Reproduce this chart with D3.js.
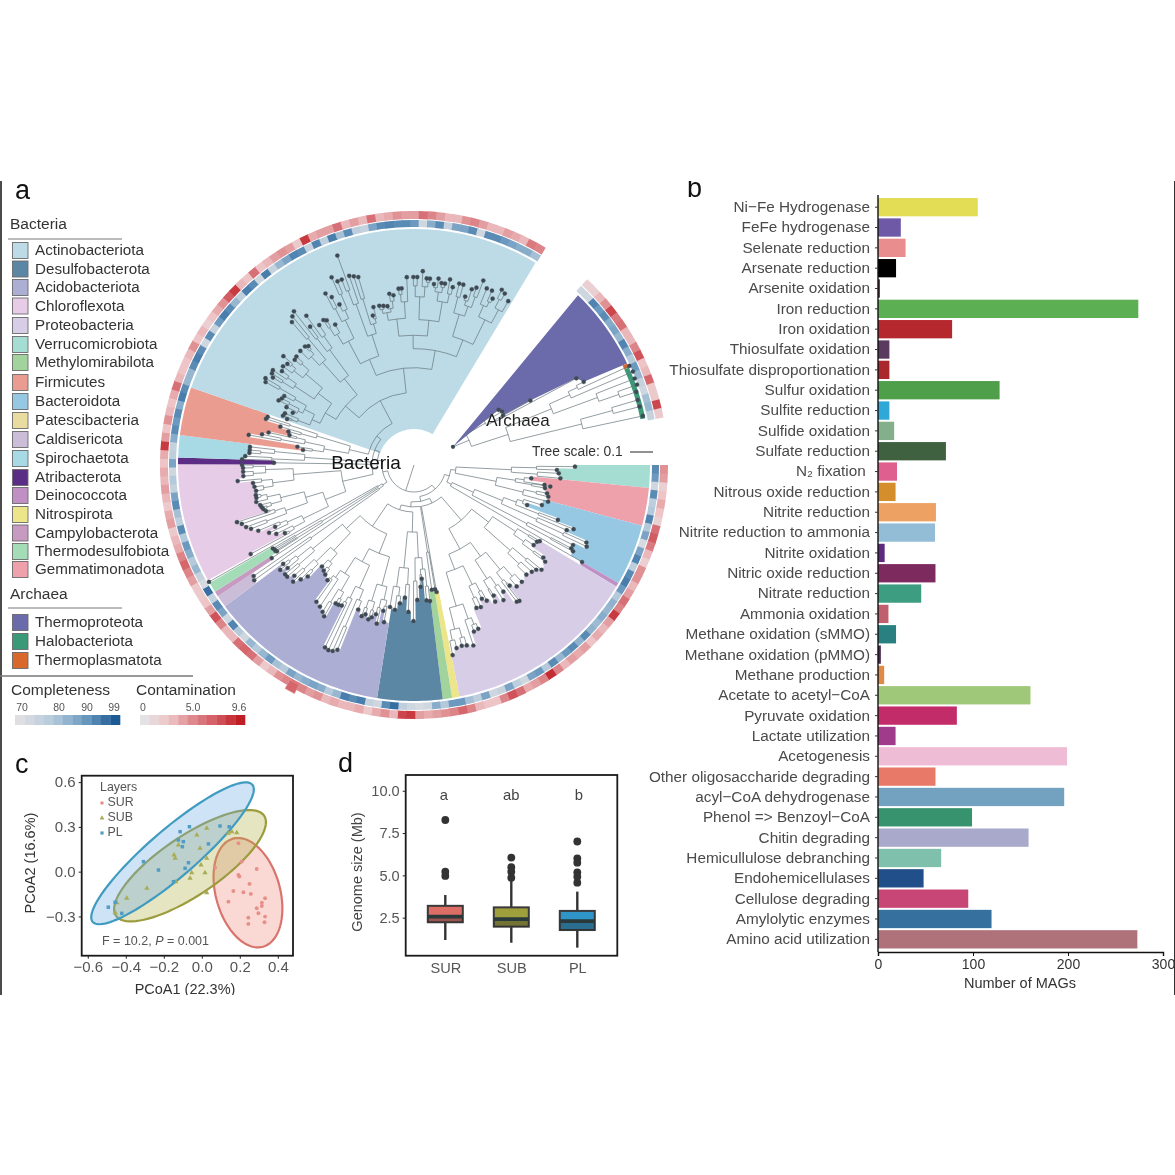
<!DOCTYPE html>
<html><head><meta charset="utf-8">
<script src="https://cdn.jsdelivr.net/npm/d3@7"></script>
<style>
html,body{margin:0;background:#fff}
svg{display:block;filter:blur(0.4px)}
text{font-family:"Liberation Sans",Arial,sans-serif}
</style></head><body>
<svg id="chart" width="1175" height="1175" viewBox="0 0 1175 1175"></svg>
<script>
// ---------- Panel a: phyla (legend) ----------
const bacteriaNames=["Actinobacteriota","Desulfobacterota","Acidobacteriota","Chloroflexota","Proteobacteria","Verrucomicrobiota","Methylomirabilota","Firmicutes","Bacteroidota","Patescibacteria","Caldisericota","Spirochaetota","Atribacterota","Deinococcota","Nitrospirota","Campylobacterota","Thermodesulfobiota","Gemmatimonadota"];
const bacteriaColors=["#bcdbe7","#5b87a5","#adaed4","#e6cce6","#d8cde7","#a5ddd2","#a3d39c","#eb9c90","#96c8e4","#e8dca0","#cbbdd8","#a8dae6","#5c2d84","#c08fc4","#ede58a","#c79ac2","#a5dcb8","#eea1ab"];
const archaeaNames=["Thermoproteota","Halobacteriota","Thermoplasmatota"];
const archaeaColors=["#6b6aab","#3a9a78","#d9692b"];
// clade order around the circle, clockwise, with their angular spans (degrees from 12 o'clock)
const cladeOrder=["Verrucomicrobiota","Gemmatimonadota","Bacteroidota","Deinococcota","Proteobacteria","Nitrospirota","Methylomirabilota","Desulfobacterota","Acidobacteriota","Caldisericota","Campylobacterota","Thermodesulfobiota","Patescibacteria","Chloroflexota","Atribacterota","Spirochaetota","Firmicutes","Actinobacteriota"];
const cladeStart=[90,95.6,104.9,120,121,168.9,170.7,173,189,233.2,236.2,237.5,240,240.8,270.2,271.8,277.3,289.2];
const cladeEnd=[95.6,104.9,120,121,168.9,170.7,173,189,233.2,236.2,237.5,240,240.8,270.2,271.8,277.3,289.2,391];
const solidClades=["Actinobacteriota"];
// tree tips: [angle in degrees, distance from the root]
const tipsVerruco=[[90.6,161],[92,143],[93.3,145],[95.2,147]];
const tipsGemma=[[96.5,118],[98.7,132],[99,138],[100,133],[102,136],[103.3,138],[105.3,139]];
const tipsBactero=[[107.4,134],[109.5,120],[110.9,154],[111.9,172],[113.1,166],[114.2,189],[115.3,191],[116.7,178],[117.9,178],[118.5,181]];
const tipsDeino=[[120,194]];
const tipsProteo=[[121.2,147],[122,145],[123.8,144],[125.6,159],[126.4,163],[129.4,165],[130.6,161],[132.2,159],[134.3,157],[137.3,159],[139.8,159],[141.6,154],[142.2,172],[143.1,171],[144.8,155],[146.5,162],[148.6,153],[149.3,159],[151.8,154],[153.1,150],[154.8,157],[156.4,156],[158.6,176],[160.2,177],[161.8,190],[163.7,188],[165.2,187],[166.9,188],[168.5,194]];
const tipsNitro=[[169.9,129]];
const tipsMethyl=[[170.4,126],[171.9,126]];
const tipsDesulfo=[[173.3,137],[174.7,136],[176.1,114],[176.9,122],[178.6,135],[180.2,156],[182.2,147],[183.9,133],[185.8,139],[187.5,146],[189.6,144]];
const tipsAcido=[[190.8,160],[191.9,149],[193.2,163],[194.3,154],[195.5,158],[196.5,161],[198,157],[199.1,160],[201.1,155],[202.5,200],[203.6,203],[204.8,204],[206,203],[207.2,158],[208.4,159],[209.5,159],[210.7,176],[211.9,173],[213.6,170],[215.5,168],[216.9,144],[219,141],[220.5,139],[222.2,137],[223.6,154],[224.7,161],[226,168],[227.2,163],[228.6,169],[229.7,169],[230.8,163],[232.9,164],[231.9,170]];
const tipsCaldi=[[234.2,197],[235.3,195]];
const tipsCampy=[[236.8,170]];
const tipsThermoD=[[237.8,162],[238.2,163],[238.8,163],[239.4,164]];
const tipsPatesci=[[240.3,236]];
const tipsChloro=[[241.4,186],[242.2,146],[243.4,154],[244.9,160],[246,152],[247.1,169],[248.6,175],[249.7,179],[251.1,182],[252.1,186],[252.7,155],[253.7,157],[254.5,158],[255.4,159],[256.8,162],[258.2,161],[259.2,161],[260.7,160],[262.2,161],[263.6,162],[264.8,177],[266.3,171],[267.7,171],[269,171],[270,172]];
const tipsAtri=[[270.9,140]];
const tipsSpiro=[[271.9,172],[273,169],[274.2,165],[275.2,165],[276.3,165]];
const tipsFirmi=[[277.7,112],[278.9,118],[280.3,168],[281.4,155],[282.6,149],[283.5,128],[284.9,130],[286,139],[287.3,155],[288.2,154]];
const tipsActino=[[289.9,135],[290.6,140],[291.8,139],[293.3,132],[294.4,140],[295.5,150],[296.7,148],[298,147],[299.2,170],[300.3,172],[301.8,166],[302.8,169],[303.9,170],[305.4,162],[307,164],[308.6,162],[309.8,170],[311.4,159],[312.7,160],[315.1,161],[317.4,161],[318.4,159],[319.5,188],[320.7,192],[322,195],[324.2,184],[323.1,173],[325.9,169],[328,171],[328.9,169],[330.7,161],[332.7,193],[333.9,187],[335.1,177],[336.3,205],[337.4,199],[338.7,199],[339.9,223],[341.1,200],[342.3,198],[343.5,196],[344.6,155],[345.6,163],[347.7,163],[349.1,162],[350.5,161],[351.8,173],[353.1,171],[355,177],[356,177],[357.8,188],[359.8,188],[1,188],[2.6,194],[3.9,187],[4.9,187],[6.3,182],[7.5,188],[8.6,184],[9.7,184],[11,189],[12.3,182],[14,187],[15.3,187],[16.9,176],[18.2,185],[19.4,188],[20.6,197],[22.4,191],[24.1,191],[25.3,184],[26.6,196],[27.9,194],[29.9,189]];
const cladeTips=[tipsVerruco,tipsGemma,tipsBactero,tipsDeino,tipsProteo,tipsNitro,tipsMethyl,tipsDesulfo,tipsAcido,tipsCaldi,tipsCampy,tipsThermoD,tipsPatesci,tipsChloro,tipsAtri,tipsSpiro,tipsFirmi,tipsActino];
// archaea
const archaeaRoot=[65,43];
const archaeaSectorSpan=[44,64.5];
const thermoproteotaTips=[[56.9,101],[58.7,103],[60.8,102],[61,133],[61.9,184],[63.9,189]];
const thermoplasmaTips=[[65.3,237]];
const haloTips=[[66.9,238],[68.6,237],[70.2,237],[71.8,234],[73.8,233],[75.5,233],[77.9,234]];
const thermoplasmaSpan=[64.5,65.6];
const haloSpan=[65.6,78.6];
// rings: completeness and contamination, one cell every 2 degrees, clockwise from 3 o'clock
const ringCompleteness=[92,90,74,92,78,80,93,80,88,72,88,93,78,92,94,90,80,85,84,86,83,85,92,85,92,90,84,92,80,90,88,74,78,88,76,74,88,78,82,90,90,80,86,74,72,74,78,96,92,74,76,94,92,94,84,80,86,88,86,84,88,80,82,90,84,80,84,74,80,93,74,88,92,76,96,72,76,84,80,86,90,80,92,78,82,92,88,76,80,74,88,78,76,86,92,90,92,86,94,92,84,84,92,94,92,74,92,76,90,94,92,84,78,94,92,74,94,76,84,88,93,92,76,93,78,94,82,92,78,76,88,92,93,92,92,90,74,86,92,76,88,88,92,74,92,92,90,88,86,86,82];
const ringContamination=[4.5,4,1.5,2.5,3.5,2.5,1.5,6,7,5.5,3,1.5,4.5,4.5,3,4,6,5,8.5,4,3,3.5,2.5,4,3.5,4,3,5,9,5,4,3.5,6,7.5,5,2.5,2.5,3,5,6.5,5,4.5,4,3.5,4,8.5,8,3,4.5,3.5,2,3.5,3,3,3.5,3,4.5,4,5,6,5,4.5,3,2,4,6,6.5,6,3,3,5,7.5,4,2.5,2,2,4,5,6.5,5,3.5,3,2,4,3.5,2,3,4,3,3.5,2.5,3.5,8.5,4,2.5,4.5,3,2.5,3.5,6,3,2.5,2.5,3,4.5,2.5,3,1.5,2.5,3.5,4.5,7,8.5,3,2.5,6,2.5,3,4,4.5,4,2,8.5,3.5,4,4,6,3,4,3,6,3,3.5,4.5,4,4,6,5,4,3,3,4.5,5,4,3,3,4,3.5,3,5.5,5];
const ringSpan=[90,391];
const archaeaCompleteness=[74,74,93,90,92,86,88,84,93,86,80,90,84,76,74,82,84,76];
const archaeaContamination=[1.5,1.5,3,4.5,8,5.5,6,3,3,5,7.5,2.5,3,6.5,2,2,8,2];
const archaeaRingSpan=[43,79];
const outlierCellAngle=[207.6,210];
const outlierCellValue=[6.5];
const completenessTicks=[70,80,90,99];
const contaminationTicks=[0,5.0,9.6];

// ---------- Panel b ----------
const pathways=["Ni\u2212Fe Hydrogenase","FeFe hydrogenase","Selenate reduction","Arsenate reduction","Arsenite oxidation","Iron reduction","Iron oxidation","Thiosulfate oxidation","Thiosulfate disproportionation","Sulfur oxidation","Sulfite reduction","Sulfide oxidation","Sulfate reduction","N\u2082 fixation\u00a0","Nitrous oxide reduction","Nitrite reduction","Nitrite reduction to ammonia","Nitrite oxidation","Nitric oxide reduction","Nitrate reduction","Ammonia oxidation","Methane oxidation (sMMO)","Methane oxidation (pMMO)","Methane production","Acetate to acetyl\u2212CoA","Pyruvate oxidation","Lactate utilization","Acetogenesis","Other oligosaccharide degrading","acyl\u2212CoA dehydrogenase","Phenol => Benzoyl\u2212CoA","Chitin degrading","Hemicullulose debranching","Endohemicellulases","Cellulose degrading","Amylolytic enzymes","Amino acid utilization"];
const pathwayCounts=[105,24,29,19,2,274,78,12,12,128,12,17,71.5,20,18.5,61,60,7,60.5,45.5,11,19,3,6.5,160.5,83,18.5,199,60.5,196,99,158.5,66.5,48,95,119.5,273];
const pathwayColors=["#e3dc55","#6e59a7","#e98d8e","#000000","#5a2a3a","#5cb053","#b5282e","#5a3a5e","#a8282e","#4f9e4a","#2fa8d8","#83b08a","#3f6140","#df5f8f","#d58e2c","#eda264","#93bcd6","#5f2a7d","#7d2b5f","#3d9d80","#c0606e","#2a8080","#4a2a50","#e08a48","#9fc878","#c22c68","#a03a8a","#efbcd5","#e87868","#72a2c0","#37936e","#a9a9cc","#7fc0ac","#214f8a","#c84676","#35709f","#b0727a"];
const countTicks=[0,100,200,300];

// ---------- Panel c ----------
const layers=["SUR","SUB","PL"];
const layerStroke=["#d8746c","#9c9c3e","#3f9bc0"];
const layerFill=["rgba(240,140,128,.33)","rgba(175,175,70,.33)","rgba(105,170,228,.33)"];
const layerPointColor=["#e88f88","#a9ab56","#4f9cc4"];
const ellipseCenter=[[.243,-.141],[-.062,.04],[-.154,.123]];
const ellipseMajor=[[.079,-.362],[.39,.335],[.42,.46]];
const ellipseMinor=[[.163,.058],[.087,-.164],[.082,-.12]];
const pointsSUR=[[.193,.19],[.21,.067],[.289,.018],[.193,-.022],[.198,-.033],[.251,-.082],[.166,-.129],[.219,-.138],[.258,-.149],[.14,-.201],[.333,-.178],[.316,-.208],[.316,-.23],[.289,-.245],[.298,-.279],[.245,-.308],[.333,-.301],[.245,-.35],[.33,-.339],[.07,.027]];
const pointsSUB=[[.184,.261],[.158,.268],[.14,.257],[-.009,.157],[.026,.09],[-.004,.045],[.017,-.007],[-.053,-.007],[-.062,-.044],[-.146,.112],[-.289,-.111],[.026,-.141],[-.395,-.178],[-.447,-.208],[-.456,-.275],[-.137,-.067],[-.026,.246],[.026,.291],[-.123,.179],[-.14,.09]];
const pointsPL=[[-.114,.268],[-.065,.301],[.096,.306],[.144,.301],[-.123,.212],[-.102,.167],[-.097,.201],[.035,.186],[-.07,.06],[-.088,.023],[-.307,.067],[-.228,.011],[-.492,-.238],[-.456,-.205],[-.421,-.279],[-.149,-.067]];
const pcoaXTicks=[-.6,-.4,-.2,0,.2,.4];
const pcoaYTicks=[-.3,0,.3,.6];

// ---------- Panel d ----------
const boxQ1=[2.23,1.97,1.77];
const boxMedian=[2.56,2.42,2.3];
const boxQ3=[3.2,3.11,2.9];
const boxLow=[1.18,1.02,.73];
const boxHigh=[3.84,4.83,4.04];
const boxOutliers=[[8.27,5.22,4.97],[6.05,5.48,5.22,4.86],[7.0,6.0,5.75,5.18,4.92,4.57]];
const boxColors=["#dd6e66","#9f9f3c","#2f95c8"];
const boxLetters=["a","ab","b"];
const genomeTicks=[2.5,5.0,7.5,10.0];

// ---------- drawing ----------
const svg=d3.select("#chart");
svg.append("defs").append("clipPath").attr("id","page").append("rect").attr("x",0).attr("y",181).attr("width",1175).attr("height",814);
const root=svg.append("g").attr("clip-path","url(#page)");
root.append("rect").attr("x",0).attr("y",181).attr("width",1175).attr("height",814).attr("fill","#fff");
root.append("line").attr("x1",1).attr("x2",1).attr("y1",181).attr("y2",995).attr("stroke","#111").attr("stroke-width",1.5);
root.append("line").attr("x1",1174.5).attr("x2",1174.5).attr("y1",181).attr("y2",995).attr("stroke","#333").attr("stroke-width",1);

const rad=d=>d*Math.PI/180;
const compColor=d3.scaleLinear().domain([70,80,90,99]).range(["#dfdfe2","#b4cadb","#6b99bf","#1d5a94"]);
const contColor=d3.scaleLinear().domain([0,2.5,5,7.5,9.6]).range(["#e4e2e4","#eec4c6","#dc8488","#d0525a","#bf1e24"]);

// tree group
const cx=414,cy=465,R=236;
const gA=root.append("g").attr("transform",`translate(${cx},${cy})`);
const unwrap=t=>t.map(d=>[d[0]<60?d[0]+360:d[0],d[1]]);
const radial=d3.lineRadial().angle(d=>rad(d[0])).radius(d=>d[1]);

// sector fills
cladeOrder.forEach((name,i)=>{
  const col=bacteriaColors[bacteriaNames.indexOf(name)];
  const s=cladeStart[i],e=cladeEnd[i];
  if(solidClades.includes(name)){
    gA.append("path").attr("fill",col).attr("d",d3.arc()({innerRadius:36,outerRadius:R,startAngle:rad(s),endAngle:rad(e)}));
    return;
  }
  const tips=unwrap(cladeTips[i]).slice().sort((a,b)=>a[0]-b[0]);
  const mids=d3.pairs(tips).map(([a,b])=>(a[0]+b[0])/2);
  const edges=[s,...mids,e];
  const inner=[];
  tips.forEach((t,k)=>{inner.push([edges[k],t[1]]);inner.push([edges[k+1],t[1]]);});
  const outer=d3.range(e,s,-1).concat([s]).map(a=>[a,R]);
  gA.append("path").attr("fill",col).attr("d",radial([...inner,...outer])+"Z");
});
// archaea sector
{
  const arcPts=d3.range(archaeaSectorSpan[0],archaeaSectorSpan[1],1).concat([archaeaSectorSpan[1]]).map(a=>[a,R]);
  const edge=thermoproteotaTips.slice().reverse();
  gA.append("path").attr("fill",archaeaColors[0]).attr("d",radial([archaeaRoot,...arcPts,...edge])+"Z");
  gA.append("path").attr("fill",archaeaColors[2]).attr("d",d3.arc()({innerRadius:231,outerRadius:R,startAngle:rad(thermoplasmaSpan[0]),endAngle:rad(thermoplasmaSpan[1])}));
  gA.append("path").attr("fill",archaeaColors[1]).attr("d",d3.arc()({innerRadius:231,outerRadius:R,startAngle:rad(haloSpan[0]),endAngle:rad(haloSpan[1])}));
}
// rings
const ringIdx=d3.scaleLinear().domain([0,ringCompleteness.length]).range(ringSpan);
function drawRing(vals,scale,color,r0,r1){
  gA.append("g").selectAll("path").data(vals).join("path")
    .attr("fill",d=>color(d))
    .attr("d",(d,i)=>d3.arc()({innerRadius:r0,outerRadius:r1,startAngle:rad(scale(i)),endAngle:rad(scale(i+1))+.004}));
}
drawRing(ringCompleteness,ringIdx,compColor,238,245);
drawRing(ringContamination,ringIdx,contColor,246,254);
const archIdx=d3.scaleLinear().domain([0,archaeaCompleteness.length]).range(archaeaRingSpan);
drawRing(archaeaCompleteness,archIdx,compColor,238,245);
drawRing(archaeaContamination,archIdx,contColor,246,254);
gA.append("path").attr("fill",contColor(outlierCellValue[0])).attr("stroke","#e8a0a0").attr("stroke-width",.5)
  .attr("d",d3.arc()({innerRadius:248,outerRadius:258,startAngle:rad(outlierCellAngle[0]),endAngle:rad(outlierCellAngle[1])}));

// tree (binary splitting of neighbouring tips, laid out through d3.hierarchy)
function buildNode(tips,parentR){
  if(tips.length===1) return {a:tips[0][0],r:tips[0][1],tip:true};
  const n=tips.length,minR=d3.min(tips,d=>d[1]);
  const f=n>8?.3:.55;
  const r=parentR+(minR-parentR)*f;
  const lo=Math.max(1,Math.ceil(n*.3)),hi=Math.min(n-1,Math.floor(n*.7));
  let best=lo,gap=-1;
  for(let k=lo;k<=hi;k++){const g=tips[k][0]-tips[k-1][0];if(g>gap){gap=g;best=k;}}
  const c1=buildNode(tips.slice(0,best),r),c2=buildNode(tips.slice(best),r);
  return {a:(c1.a+c2.a)/2,r,children:[c1,c2]};
}
function joinClades(list,parentR){
  if(list.length===1) return buildNode(list[0],parentR);
  const m=Math.floor(list.length/2),r=parentR+5;
  const c1=joinClades(list.slice(0,m),r),c2=joinClades(list.slice(m),r);
  return {a:(c1.a+c2.a)/2,r,children:[c1,c2]};
}
const sortedClades=cladeTips.map(t=>unwrap(t).slice().sort((a,b)=>a[0]-b[0]));
const bacteriaTree=d3.hierarchy(joinClades(sortedClades,22));
const archaeaTips=[...thermoproteotaTips,...thermoplasmaTips,...haloTips];
const archaeaTree=d3.hierarchy(buildNode(archaeaTips,archaeaRoot[1]));
function drawTree(h,rootAngle,rootR){
  const g=gA.append("g");
  const P=(a,r)=>d3.pointRadial(rad(a),r);
  const p=d3.path();
  h.each(n=>{
    if(n.children){
      const [c1,c2]=n.children;
      const q0=P(c1.data.a,n.data.r);
      p.moveTo(q0[0],q0[1]);
      p.arc(0,0,n.data.r,rad(c1.data.a)-Math.PI/2,rad(c2.data.a)-Math.PI/2,false);
      n.children.forEach(c=>{
        const a=P(c.data.a,n.data.r),b=P(c.data.a,c.data.r);
        p.moveTo(a[0],a[1]);p.lineTo(b[0],b[1]);
      });
    }
  });
  const s=P(rootAngle,rootR),t=P(h.data.a,h.data.r);
  p.moveTo(s[0],s[1]);p.lineTo(t[0],t[1]);
  g.append("path").attr("d",p.toString()).attr("fill","none").attr("stroke","#66747a").attr("stroke-width",.7);
  g.append("g").selectAll("circle").data(h.leaves()).join("circle")
    .attr("transform",d=>{const q=P(d.data.a,d.data.r);return `translate(${q[0]},${q[1]})`;})
    .attr("r",2.1).attr("fill","#3c4a55").attr("stroke","#555").attr("stroke-width",.3);
}
drawTree(bacteriaTree,0,0);
drawTree(archaeaTree,archaeaRoot[0],archaeaRoot[1]);
{const q=d3.pointRadial(rad(archaeaRoot[0]),archaeaRoot[1]);
 gA.append("circle").attr("cx",q[0]).attr("cy",q[1]).attr("r",2.1).attr("fill","#3c4a55");}

const T=(x,y,s,size,o={})=>root.append("text").attr("x",x).attr("y",y).attr("font-size",size).attr("fill",o.fill||"#333").attr("text-anchor",o.anchor||"start").attr("dominant-baseline","middle").text(s);
// inner hole labels
T(366,464,"Bacteria",19,{fill:"#111",anchor:"middle"});
T(518,422,"Archaea",17,{fill:"#222",anchor:"middle"});
T(532,452,"Tree scale: 0.1",13.8,{fill:"#333"});
root.append("line").attr("x1",630).attr("x2",653).attr("y1",452).attr("y2",452).attr("stroke","#555").attr("stroke-width",1.3);

// panel letters
T(15,192,"a",27,{fill:"#111"});
T(687,190,"b",27,{fill:"#111"});
T(15,766,"c",27,{fill:"#111"});
T(338,765,"d",27,{fill:"#111"});

// legend
const rowY=[251,269.5,288,306.5,326,345,363,383,402,421,440,459,478,496,515,533.5,552,570];
const archRowY=[623,642,661];
T(10,225,"Bacteria",15.5);
root.append("line").attr("x1",8).attr("x2",122).attr("y1",239).attr("y2",239).attr("stroke","#777");
T(10,595,"Archaea",15.5);
root.append("line").attr("x1",8).attr("x2",122).attr("y1",608).attr("y2",608).attr("stroke","#777");
root.append("line").attr("x1",0).attr("x2",193).attr("y1",676).attr("y2",676).attr("stroke","#777").attr("stroke-width",1.3);
function legendRows(names,colors,ys){
  names.forEach((n,i)=>{
    root.append("rect").attr("x",12.5).attr("y",ys[i]-8.5).attr("width",15.5).attr("height",16).attr("fill",colors[i]).attr("stroke","#6b6b6b").attr("stroke-width",.9);
    T(35,ys[i],n,15.2);
  });
}
legendRows(bacteriaNames,bacteriaColors,rowY);
legendRows(archaeaNames,archaeaColors,archRowY);
T(11,691,"Completeness",15.5);
T(136,691,"Contamination",15.5);
// colour strips
const stripBlocks=d3.range(11);
const stripPos=d3.scaleBand().domain(stripBlocks).range([0,105]);
const compStrip=d3.scaleLinear().domain([0,10]).range([70,99]);
const contStrip=d3.scaleLinear().domain([0,10]).range([0,9.6]);
root.append("g").selectAll("rect").data(stripBlocks).join("rect")
  .attr("x",d=>15+stripPos(d)).attr("y",715).attr("width",stripPos.bandwidth()+.3).attr("height",10).attr("fill",d=>compColor(compStrip(d)));
root.append("g").selectAll("rect").data(stripBlocks).join("rect")
  .attr("x",d=>140+stripPos(d)).attr("y",715).attr("width",stripPos.bandwidth()+.3).attr("height",10).attr("fill",d=>contColor(contStrip(d)));
const compTickX=d3.scaleOrdinal().domain(completenessTicks).range([22,59,87,114]);
completenessTicks.forEach(t=>T(compTickX(t),708,String(t),10.5,{anchor:"middle",fill:"#555"}));
const contTickX=d3.scaleOrdinal().domain(contaminationTicks).range([143,193,239]);
contaminationTicks.forEach(t=>T(contTickX(t),708,t===0?"0":t.toFixed(1),10.5,{anchor:"middle",fill:"#555"}));

// ---------- panel b ----------
const bx=d3.scaleLinear().domain([0,300]).range([878,1163]);
const by=d3.scaleBand().domain(pathways).range([197,949.5]).paddingInner(.1).paddingOuter(.05);
const gB=root.append("g");
gB.selectAll("rect").data(pathways).join("rect")
  .attr("x",bx(0)).attr("y",d=>by(d)).attr("height",by.bandwidth())
  .attr("width",(d,i)=>bx(pathwayCounts[i])-bx(0)).attr("fill",(d,i)=>pathwayColors[i]);
const yAxisB=gB.append("g").attr("transform","translate(878,0)").call(d3.axisLeft(by).tickSize(3).tickPadding(5));
yAxisB.selectAll("text").attr("font-size",15.3).attr("fill","#4a4a4a").attr("font-family",'"Liberation Sans",Arial,sans-serif');
yAxisB.select(".domain").attr("stroke","#111").attr("stroke-width",1.4).attr("d","M0,195V952");
yAxisB.selectAll(".tick line").attr("stroke","#333");
const xAxisB=gB.append("g").attr("transform","translate(0,952)").call(d3.axisBottom(bx).tickValues(countTicks).tickSize(4).tickPadding(3));
xAxisB.selectAll("text").attr("font-size",14).attr("fill","#333").attr("font-family",'"Liberation Sans",Arial,sans-serif');
xAxisB.select(".domain").attr("stroke","#111").attr("stroke-width",1.4);
xAxisB.selectAll(".tick line").attr("stroke","#111");
T(1020,984,"Number of MAGs",14.5,{anchor:"middle"});

// ---------- panel c ----------
const px=d3.scaleLinear().domain([-.632,.48]).range([81.7,293]);
const py=d3.scaleLinear().domain([-.563,.643]).range([955.7,775.7]);
const gC=root.append("g");
const ellLine=d3.line().x(d=>px(d[0])).y(d=>py(d[1])).curve(d3.curveLinearClosed);
layers.forEach((l,i)=>{
  const c=ellipseCenter[i],u=ellipseMajor[i],v=ellipseMinor[i];
  const pts=d3.range(0,360,4).map(a=>{const t=rad(a);return [c[0]+u[0]*Math.cos(t)+v[0]*Math.sin(t),c[1]+u[1]*Math.cos(t)+v[1]*Math.sin(t)];});
  gC.append("path").attr("d",ellLine(pts)).attr("fill",layerFill[i]).attr("stroke",layerStroke[i]).attr("stroke-width",2.2);
});
const shapes=[d3.symbolCircle,d3.symbolTriangle,d3.symbolSquare];
[pointsSUR,pointsSUB,pointsPL].forEach((set,i)=>{
  gC.append("g").selectAll("path").data(set).join("path")
    .attr("transform",d=>`translate(${px(d[0])},${py(d[1])})`)
    .attr("d",d3.symbol(shapes[i],12)).attr("fill",layerPointColor[i]);
});
gC.append("rect").attr("x",px.range()[0]).attr("y",py.range()[1]).attr("width",px.range()[1]-px.range()[0]).attr("height",py.range()[0]-py.range()[1]).attr("fill","none").attr("stroke","#1a1a1a").attr("stroke-width",1.8);
const xAxC=gC.append("g").attr("transform","translate(0,955.7)").call(d3.axisBottom(px).tickValues(pcoaXTicks).tickSize(3).tickPadding(3).tickFormat(d=>d3.format(".1f")(d).replace("-","\u2212")));
const yAxC=gC.append("g").attr("transform","translate(81.7,0)").call(d3.axisLeft(py).tickValues(pcoaYTicks).tickSize(3).tickPadding(3).tickFormat(d=>d3.format(".1f")(d).replace("-","\u2212")));
[xAxC,yAxC].forEach(a=>{a.select(".domain").remove();a.selectAll("text").attr("font-size",15).attr("fill","#555").attr("font-family",'"Liberation Sans",Arial,sans-serif');a.selectAll(".tick line").attr("stroke","#222");});
T(185,990,"PCoA1 (22.3%)",14.5,{anchor:"middle"});
root.append("text").attr("transform","translate(31,863) rotate(-90)").attr("text-anchor","middle").attr("dominant-baseline","middle").attr("font-size",14.5).attr("fill","#333").text("PCoA2 (16.6%)");
T(100,788,"Layers",12.4,{fill:"#555"});
const legY=[803,818,833];
layers.forEach((l,i)=>{
  gC.append("path").attr("transform",`translate(102,${legY[i]})`).attr("d",d3.symbol(shapes[i],10)).attr("fill",layerPointColor[i]);
  T(107.5,legY[i],l,12.4,{fill:"#555"});
});
{const t=root.append("text").attr("x",102).attr("y",942).attr("font-size",12.5).attr("fill","#555").attr("dominant-baseline","middle");
 t.append("tspan").text("F = 10.2, ");t.append("tspan").attr("font-style","italic").text("P");t.append("tspan").text(" = 0.001");}

// ---------- panel d ----------
const dx=d3.scalePoint().domain(layers).range([445.3,577.3]);
const dy=d3.scaleLinear().domain([.254,10.93]).range([955.7,775]);
const gD=root.append("g");
const bw=35;
layers.forEach((l,i)=>{
  const x=dx(l);
  gD.append("line").attr("x1",x).attr("x2",x).attr("y1",dy(boxLow[i])).attr("y2",dy(boxHigh[i])).attr("stroke","#333").attr("stroke-width",2.4);
  gD.append("rect").attr("x",x-bw/2).attr("width",bw).attr("y",dy(boxQ3[i])).attr("height",dy(boxQ1[i])-dy(boxQ3[i])).attr("fill",boxColors[i]).attr("stroke","#3a3a3a").attr("stroke-width",2);
  gD.append("rect").attr("x",x-bw/2).attr("width",bw).attr("y",dy(boxMedian[i])).attr("height",dy(boxQ1[i])-dy(boxMedian[i])).attr("fill","#222").attr("opacity",.35);
  gD.append("line").attr("x1",x-bw/2).attr("x2",x+bw/2).attr("y1",dy(boxMedian[i])).attr("y2",dy(boxMedian[i])).attr("stroke","#2a3a3a").attr("stroke-width",3.8);
  gD.append("g").selectAll("circle").data(boxOutliers[i]).join("circle").attr("cx",x).attr("cy",d=>dy(d)).attr("r",3.9).attr("fill","#333");
  T(x-1.5+i*1.5,796,boxLetters[i],14.8,{anchor:"middle",fill:"#444"});
});
gD.append("rect").attr("x",405.7).attr("y",775).attr("width",211.6).attr("height",180.7).attr("fill","none").attr("stroke","#1a1a1a").attr("stroke-width",1.8);
const xAxD=gD.append("g").attr("transform","translate(0,955.7)").call(d3.axisBottom(dx).tickSize(0).tickPadding(7));
const yAxD=gD.append("g").attr("transform","translate(405.7,0)").call(d3.axisLeft(dy).tickValues(genomeTicks).tickSize(3).tickPadding(3).tickFormat(d3.format(".1f")));
[xAxD,yAxD].forEach(a=>{a.select(".domain").remove();a.selectAll("text").attr("font-size",14.6).attr("fill","#555").attr("font-family",'"Liberation Sans",Arial,sans-serif');a.selectAll(".tick line").attr("stroke","#222");});
root.append("text").attr("transform","translate(358,872) rotate(-90)").attr("text-anchor","middle").attr("dominant-baseline","middle").attr("font-size",14.5).attr("fill","#444").text("Genome size (Mb)");
</script>
</body></html>
